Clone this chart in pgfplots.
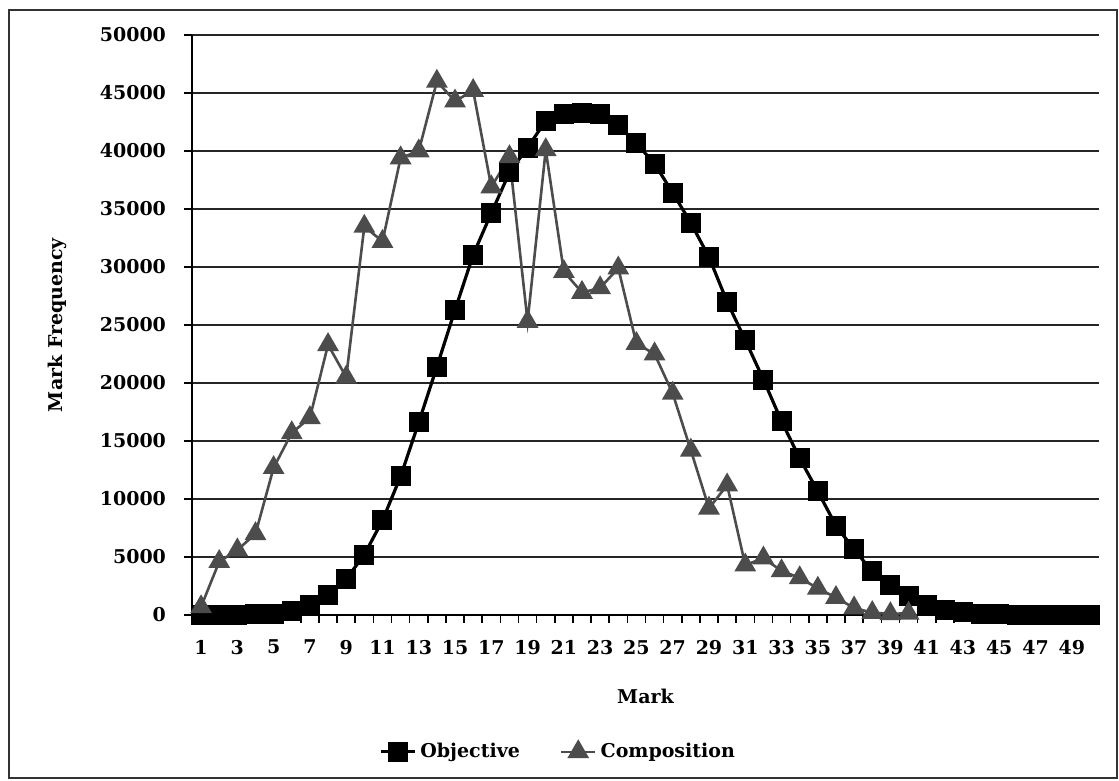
\documentclass[border=0pt]{standalone}
\usepackage{fontspec}
\setmainfont{DejaVu Serif}
\usepackage{pgfplots}
\pgfplotsset{compat=1.18}
\begin{document}
\begin{tikzpicture}
\path[use as bounding box] (-96pt,-83pt) rectangle (463.5pt,307.5pt);
\draw[line width=1pt, black!80] (-91.5pt,-81.5pt) rectangle (462.5pt,302.5pt);
\begin{axis}[
  scale only axis, width=453.5pt, height=290pt,
  xmin=0.5, xmax=50.5, ymin=0, ymax=50000,
  axis x line*=bottom, axis y line*=left,
  axis line style={line width=1.1pt, black},
  ytick={0,5000,...,50000},
  scaled y ticks=false,
  /pgf/number format/1000 sep={},
  /pgf/number format/assume math mode=true,
  ymajorgrids, grid style={black!85, line width=0.8pt},
  xtick={0.5,1.5,...,50.5}, xticklabels={},
  extra x ticks={1,3,...,49},
  extra x tick labels={1,3,5,7,9,11,13,15,17,19,21,23,25,27,29,31,33,35,37,39,41,43,45,47,49},
  extra x tick style={grid=none, major tick length=0pt},
  tick align=outside, major tick length=4pt,
  tick style={black, line width=0.8pt},
  ticklabel style={font=\fontsize{9.5}{11}\selectfont\bfseries},
  xticklabel style={yshift=-9pt},
  yticklabel style={xshift=-5.5pt},
  xlabel={Mark}, ylabel={Mark Frequency},
  label style={font=\fontsize{9.5}{11}\selectfont\bfseries},
  xlabel style={at={(axis description cs:0.5,-0.1397)}, anchor=center},
  ylabel style={at={(axis description cs:-0.1488,0.5)}, anchor=center},
  legend style={at={(axis description cs:0.4046,-0.236)}, anchor=center, draw=none,
    font=\fontsize{9.5}{11}\selectfont\bfseries,
    /tikz/every even column/.append style={column sep=18pt}},
  legend columns=2,
]
\addplot[black, line width=1.6pt, mark=square*, mark size=4.2pt, mark options={solid}] coordinates {
(1,0) (2,0) (3,0) (4,50) (5,120) (6,350) (7,850) (8,1700) (9,3100) (10,5200)
(11,8150) (12,11950) (13,16600) (14,21400) (15,26300) (16,31050) (17,34650) (18,38150) (19,40300) (20,42600)
(21,43200) (22,43300) (23,43200) (24,42200) (25,40650) (26,38900) (27,36400) (28,33800) (29,30850) (30,27000)
(31,23700) (32,20300) (33,16700) (34,13500) (35,10650) (36,7700) (37,5650) (38,3750) (39,2600) (40,1600)
(41,900) (42,450) (43,250) (44,120) (45,60) (46,30) (47,15) (48,5) (49,0) (50,0)
};
\addlegendentry{Objective}
\addplot[black!70, line width=1.3pt, mark=triangle*, mark size=5pt, mark options={solid}] coordinates {
(1,700) (2,4600) (3,5600) (4,7000) (5,12700) (6,15700) (7,17000) (8,23300) (9,20500) (10,33500)
(11,32200) (12,39400) (13,40000) (14,46000) (15,44300) (16,45200) (17,36900) (18,39500) (19,25300) (20,40100)
(21,29600) (22,27800) (23,28200) (24,29900) (25,23400) (26,22500) (27,19100) (28,14200) (29,9200) (30,11200)
(31,4300) (32,4900) (33,3800) (34,3200) (35,2300) (36,1500) (37,600) (38,200) (39,100) (40,150)
};
\addlegendentry{Composition}
\end{axis}
\end{tikzpicture}
\end{document}
